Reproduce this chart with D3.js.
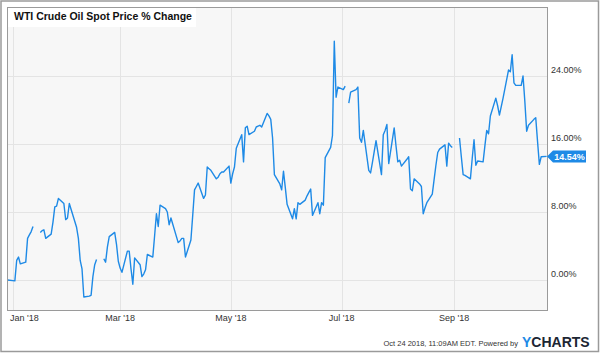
<!DOCTYPE html>
<html>
<head>
<meta charset="utf-8">
<script src="https://cdn.jsdelivr.net/npm/d3@7"></script>
<style>
    body { margin: 0; background: #fff; }
    #chart-area { width: 600px; height: 353px; }
    text { font-family: Helvetica, Arial, "Liberation Sans", sans-serif; }
</style>
</head>
<body>
<div id="chart-area"></div>
<script>
// trading days and % change of WTI spot vs. Dec 29 2017 (null = holiday gap)
let tradingDays = [
    "2017-12-29",
    "2018-01-02","2018-01-03","2018-01-04","2018-01-05","2018-01-08","2018-01-09","2018-01-10","2018-01-11","2018-01-12","2018-01-15",
    "2018-01-16","2018-01-17","2018-01-18","2018-01-19","2018-01-22","2018-01-23","2018-01-24","2018-01-25","2018-01-26","2018-01-29","2018-01-30","2018-01-31",
    "2018-02-01","2018-02-02","2018-02-05","2018-02-06","2018-02-07","2018-02-08","2018-02-09","2018-02-12","2018-02-13","2018-02-14","2018-02-15","2018-02-16","2018-02-19",
    "2018-02-20","2018-02-21","2018-02-22","2018-02-23","2018-02-26","2018-02-27","2018-02-28",
    "2018-03-01","2018-03-02","2018-03-05","2018-03-06","2018-03-07","2018-03-08","2018-03-09","2018-03-12","2018-03-13","2018-03-14","2018-03-15","2018-03-16",
    "2018-03-19","2018-03-20","2018-03-21","2018-03-22","2018-03-23","2018-03-26","2018-03-27","2018-03-28","2018-03-29",
    "2018-04-02","2018-04-03","2018-04-04","2018-04-05","2018-04-06","2018-04-09","2018-04-10","2018-04-11","2018-04-12","2018-04-13","2018-04-16","2018-04-17",
    "2018-04-18","2018-04-19","2018-04-20","2018-04-23","2018-04-24","2018-04-25","2018-04-26","2018-04-27","2018-04-30",
    "2018-05-01","2018-05-02","2018-05-03","2018-05-04","2018-05-07","2018-05-08","2018-05-09","2018-05-10","2018-05-11","2018-05-14","2018-05-15","2018-05-16",
    "2018-05-17","2018-05-18","2018-05-21","2018-05-22","2018-05-23","2018-05-24","2018-05-25","2018-05-28","2018-05-29","2018-05-30","2018-05-31",
    "2018-06-01","2018-06-04","2018-06-05","2018-06-06","2018-06-07","2018-06-08","2018-06-11","2018-06-12","2018-06-13","2018-06-14","2018-06-15","2018-06-18",
    "2018-06-19","2018-06-20","2018-06-21","2018-06-22","2018-06-25","2018-06-26","2018-06-27","2018-06-28","2018-06-29",
    "2018-07-02","2018-07-03","2018-07-04","2018-07-05","2018-07-06","2018-07-09","2018-07-10","2018-07-11","2018-07-12","2018-07-13","2018-07-16","2018-07-17",
    "2018-07-18","2018-07-19","2018-07-20","2018-07-23","2018-07-24","2018-07-25","2018-07-26","2018-07-27","2018-07-30","2018-07-31",
    "2018-08-01","2018-08-02","2018-08-03","2018-08-06","2018-08-07","2018-08-08","2018-08-09","2018-08-10","2018-08-13","2018-08-14","2018-08-15","2018-08-16",
    "2018-08-17","2018-08-20","2018-08-21","2018-08-22","2018-08-23","2018-08-24","2018-08-27","2018-08-28","2018-08-29","2018-08-30","2018-08-31",
    "2018-09-03","2018-09-04","2018-09-05","2018-09-06","2018-09-07","2018-09-10","2018-09-11","2018-09-12","2018-09-13","2018-09-14","2018-09-17","2018-09-18",
    "2018-09-19","2018-09-20","2018-09-21","2018-09-24","2018-09-25","2018-09-26","2018-09-27","2018-09-28",
    "2018-10-01","2018-10-02","2018-10-03","2018-10-04","2018-10-05","2018-10-08","2018-10-09","2018-10-10","2018-10-11","2018-10-12","2018-10-15","2018-10-16",
    "2018-10-17","2018-10-18","2018-10-19","2018-10-22"
];

let pctChange = [
    0.0,
    -0.1, 2.3, 2.7, 1.9, 2.1, 4.9, 5.3, 5.7, 6.3, null,
    5.6, 5.8, 5.9, 4.9, 5.4, 6.8, 8.6, 8.7, 9.6, 9.0, 7.1, 7.3,
    9.0, 8.3, 6.2, 4.9, 2.3, 1.3, -2.0, -1.9, -1.8, 0.4, 1.8, 2.4, null,
    2.5, 2.1, 3.9, 5.1, 5.6, 4.2, 2.2,
    1.4, 0.9, 3.4, 3.4, 1.3, -0.5, 2.6, 1.8, 0.4, 0.7, 1.2, 3.0,
    2.7, 5.2, 7.8, 6.3, 8.8, 8.4, 8.0, 6.5, 7.3,
    4.4, 4.6, 4.9, 4.9, 2.7, 4.7, 7.6, 10.6, 11.0, 11.4, 9.6, 10.0,
    13.3, 13.1, 12.9, 11.9, 12.1, 12.5, 12.7, 12.7, 13.4,
    11.4, 12.5, 13.3, 15.5, 17.1, 13.9, 17.9, 18.1, 17.1, 17.5, 18.0, 18.1,
    18.2, 18.0, 19.6, 19.3, 18.9, 16.7, 12.4, 11.3, 10.6, 12.8, 10.9,
    8.9, 7.2, 8.4, 7.2, 9.1, 8.9, 9.4, 9.9, 10.3, 10.7, 7.6, 9.1,
    7.8, 9.1, 8.8, 14.4, 15.6, 17.0, 28.1, 21.5, 22.7,
    22.4, 22.8, null, 20.8, 22.1, 22.4, 22.7, 16.7, 16.2, 17.6, 12.9, 12.6,
    13.8, 15.1, 16.4, 12.4, 17.1, 17.6, 18.3, 13.7, 17.9, 15.8,
    13.9, 14.1, 13.4, 14.2, 14.5, 10.7, 10.5, 11.9, 11.3, 11.0, 7.8, 8.5,
    9.1, 10.1, 11.8, 13.5, 15.0, 15.4, 15.9, 13.4, 16.1, 15.8, 15.6,
    null, 16.7, 14.5, 12.4, 12.3, 11.9, 14.3, 16.5, 13.5, 14.0, 13.9, 15.8,
    17.6, 17.2, 19.3, 21.4, 20.5, 19.4, 20.4, 21.4,
    24.7, 24.5, 26.5, 23.2, 22.9, 22.9, 24.0, 21.0, 17.5, 18.2, 18.9, 19.1,
    16.3, 13.6, 14.5, 14.54
];

let yTicks = [0, 8, 16, 24];
let xTickDates = ["2018-01-01", "2018-03-01", "2018-05-01", "2018-07-01", "2018-09-01"];
let xTickLabels = ["Jan '18", "Mar '18", "May '18", "Jul '18", "Sep '18"];

let chartTitle = "WTI Crude Oil Spot Price % Change";
let footerText = "Oct 24 2018, 11:09AM EDT.  Powered by";

class SpotPriceChart {
    constructor(_parentElement) {
        this.parentElement = _parentElement;
        this.initVis();
    }

    initVis() {
        let vis = this;

        vis.totalWidth = 600;
        vis.totalHeight = 353;
        vis.margin = {top: 7, right: 53, bottom: 43, left: 7};
        vis.width = vis.totalWidth - vis.margin.left - vis.margin.right;
        vis.height = vis.totalHeight - vis.margin.top - vis.margin.bottom;

        vis.svgRoot = d3.select("#" + vis.parentElement).append("svg")
            .attr("width", vis.totalWidth)
            .attr("height", vis.totalHeight);

        // outer frame
        vis.svgRoot.append("rect")
            .attr("x", 1).attr("y", 1)
            .attr("width", vis.totalWidth - 2.5).attr("height", vis.totalHeight - 2.5)
            .attr("fill", "#fff")
            .attr("stroke", "#9a9a9a")
            .attr("stroke-width", 1.5);

        vis.svg = vis.svgRoot.append("g")
            .attr("transform", "translate(" + vis.margin.left + "," + vis.margin.top + ")");

        vis.svg.append("rect")
            .attr("width", vis.width)
            .attr("height", vis.height)
            .attr("fill", "#f7f7f7");

        vis.svg.append("clipPath").attr("id", "plot-clip")
            .append("rect").attr("width", vis.width).attr("height", vis.height);

        // scales (Jan 1 -> 6px, Sep 1 -> 447px inside plot; 0% -> 273px, 8% -> 205px)
        let parse = d3.timeParse("%Y-%m-%d");
        let pxPerDay = 441 / 243;
        let jan1 = parse("2018-01-01");
        vis.x = d3.scaleTime()
            .domain([d3.timeHour.offset(jan1, -6 / pxPerDay * 24), d3.timeHour.offset(jan1, (vis.width - 6) / pxPerDay * 24)])
            .range([0, vis.width]);
        vis.y = d3.scaleLinear()
            .domain([(273 - vis.height) / 8.5, 273 / 8.5])
            .range([vis.height, 0]);

        vis.displayData = tradingDays.map((d, i) => ({date: parse(d), value: pctChange[i]}));

        // gridlines
        vis.svg.append("g").selectAll("line.h-grid")
            .data(yTicks).enter().append("line")
            .attr("class", "h-grid")
            .attr("x1", 0).attr("x2", vis.width)
            .attr("y1", d => Math.round(vis.y(d)) + 0.5)
            .attr("y2", d => Math.round(vis.y(d)) + 0.5)
            .attr("stroke", "#e4e4e4");

        vis.svg.append("g").selectAll("line.v-grid")
            .data(xTickDates).enter().append("line")
            .attr("class", "v-grid")
            .attr("x1", d => Math.round(vis.x(parse(d))) + 0.5)
            .attr("x2", d => Math.round(vis.x(parse(d))) + 0.5)
            .attr("y1", 0).attr("y2", vis.height)
            .attr("stroke", "#e4e4e4");

        // price line
        let line = d3.line()
            .defined(d => d.value !== null)
            .x(d => vis.x(d.date))
            .y(d => vis.y(d.value));

        vis.svg.append("path")
            .datum(vis.displayData)
            .attr("clip-path", "url(#plot-clip)")
            .attr("fill", "none")
            .attr("stroke", "#1e8ae6")
            .attr("stroke-width", 1.4)
            .attr("stroke-linejoin", "round")
            .attr("d", line);

        // plot border
        vis.svg.append("rect")
            .attr("x", 0.5).attr("y", 0.5)
            .attr("width", vis.width).attr("height", vis.height)
            .attr("fill", "none")
            .attr("stroke", "#9a9a9a");

        // title box
        vis.svg.append("rect")
            .attr("x", 1).attr("y", 1)
            .attr("width", 188).attr("height", 19)
            .attr("fill", "#fff");
        vis.svg.append("text")
            .attr("x", 7).attr("y", 12.5)
            .attr("font-size", "10.5px")
            .attr("font-weight", "bold")
            .attr("fill", "#111")
            .text(chartTitle);

        // y labels on the right
        vis.svg.append("g").selectAll("text.y-label")
            .data(yTicks).enter().append("text")
            .attr("class", "y-label")
            .attr("x", vis.width + 4)
            .attr("y", d => vis.y(d) - 3)
            .attr("font-size", "9px")
            .attr("fill", "#333")
            .text(d => d3.format(".2f")(d) + "%");

        // x labels
        vis.svg.append("g").selectAll("text.x-label")
            .data(xTickDates).enter().append("text")
            .attr("class", "x-label")
            .attr("y", vis.height + 11)
            .attr("font-size", "9px")
            .attr("fill", "#333")
            .attr("text-anchor", "middle")
            .text((d, i) => xTickLabels[i])
            .attr("x", function (d) {
                let half = this.getComputedTextLength() / 2;
                return Math.max(vis.x(parse(d)), 3 + half);
            });

        // last value flag
        let last = vis.displayData[vis.displayData.length - 1];
        let ly = vis.y(last.value);
        let lx = vis.width;
        vis.svg.append("path")
            .attr("d", "M" + lx + "," + ly + " L" + (lx + 6) + "," + (ly - 6) + " L" + (lx + 39) + "," + (ly - 6)
                + " L" + (lx + 39) + "," + (ly + 6) + " L" + (lx + 6) + "," + (ly + 6) + " Z")
            .attr("fill", "#1e8ae6");
        vis.svg.append("text")
            .attr("x", lx + 22.5).attr("y", ly + 3.3)
            .attr("text-anchor", "middle")
            .attr("font-size", "9px")
            .attr("font-weight", "bold")
            .attr("fill", "#fff")
            .text(d3.format(".2f")(last.value) + "%");

        // footer
        vis.svgRoot.append("text")
            .attr("x", 518).attr("y", 346)
            .attr("text-anchor", "end")
            .attr("font-size", "7.5px")
            .attr("fill", "#333")
            .text(footerText);
        let logo = vis.svgRoot.append("text")
            .attr("x", 522).attr("y", 347)
            .attr("font-size", "14px")
            .attr("font-weight", "bold");
        logo.append("tspan").attr("fill", "#1e8ae6").text("Y");
        logo.append("tspan").attr("fill", "#1c2633").text("CHARTS");
    }
}

new SpotPriceChart("chart-area");
</script>
</body>
</html>
